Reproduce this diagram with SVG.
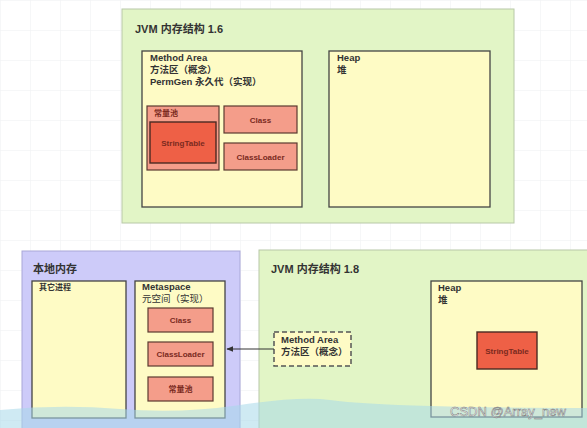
<svg xmlns="http://www.w3.org/2000/svg" width="587" height="428" viewBox="0 0 587 428">
<defs>
<pattern id="grid" width="30" height="30" patternUnits="userSpaceOnUse">
<path d="M30 0H0V30" fill="none" stroke="#eef0f2" stroke-width="1"/>
</pattern>
<marker id="arr" viewBox="0 0 10 10" refX="9" refY="5" markerWidth="7" markerHeight="7" orient="auto">
<path d="M0 1L10 5L0 9z" fill="#333"/>
</marker>
<style>
text{font-family:"Liberation Sans","Noto Sans CJK SC",sans-serif;font-weight:bold;fill:#333}
.t{font-size:11px}
.h{font-size:9.5px}
.s{font-size:8px;fill:#7a2a1e}
.green{fill:#e2f5c6;stroke:#b8c8a8;stroke-width:1}
.yel{fill:#fefbc5;stroke:#444;stroke-width:1.3}
.sal{fill:#f49d8a;stroke:#5a3a30;stroke-width:1.2}
.red{fill:#ee6046;stroke:#4a2a22;stroke-width:1.4}
.pur{fill:#cdcbf9;stroke:#a9a8d8;stroke-width:1}
</style>
</defs>
<rect width="587" height="428" fill="#fff"/>
<rect width="587" height="428" fill="url(#grid)"/>

<g id="jvm16">
<rect class="green" x="122" y="9" width="392" height="214"/>
<text class="t" x="135" y="33">JVM 内存结构 1.6</text>
</g>
<g id="methodArea16">
<rect class="yel" x="142" y="51" width="160" height="156"/>
<text class="h" x="150" y="61">Method Area</text>
<text class="h" x="150" y="73">方法区（概念）</text>
<text class="h" x="150" y="85">PermGen 永久代（实现）</text>
</g>
<g id="heap16">
<rect class="yel" x="329" y="51" width="161" height="156"/>
<text class="h" x="337" y="61">Heap</text>
<text class="h" x="337" y="73">堆</text>
</g>
<g id="constPool16">
<rect class="sal" x="147" y="106" width="72" height="64"/>
<text class="s" x="154" y="116">常量池</text>
</g>
<g id="stringTable16">
<rect class="red" x="150" y="122" width="66" height="41"/>
<text class="s" x="183" y="145.5" text-anchor="middle">StringTable</text>
</g>
<g id="class16">
<rect class="sal" x="224" y="106" width="73" height="27"/>
<text class="s" x="260.5" y="122.5" text-anchor="middle">Class</text>
</g>
<g id="classLoader16">
<rect class="sal" x="224" y="143" width="73" height="27"/>
<text class="s" x="260.5" y="159.5" text-anchor="middle">ClassLoader</text>
</g>

<g id="nativeMem">
<rect class="pur" x="22" y="251" width="218" height="190"/>
<text class="t" x="33" y="273">本地内存</text>
</g>
<g id="otherProc">
<rect class="yel" x="32" y="281" width="94" height="137"/>
<text class="s" x="39" y="290" style="fill:#333">其它进程</text>
</g>
<g id="metaspace">
<rect class="yel" x="135" y="281" width="90" height="137"/>
<text class="h" x="142" y="290">Metaspace</text>
<text class="h" x="142" y="302" style="font-weight:normal">元空间（实现）</text>
</g>
<g id="class18">
<rect class="sal" x="148" y="308" width="65" height="24"/>
<text class="s" x="180.5" y="323" text-anchor="middle">Class</text>
</g>
<g id="classLoader18">
<rect class="sal" x="148" y="342" width="65" height="24"/>
<text class="s" x="180.5" y="357" text-anchor="middle">ClassLoader</text>
</g>
<g id="constPool18">
<rect class="sal" x="148" y="377" width="65" height="24"/>
<text class="s" x="180.5" y="392" text-anchor="middle">常量池</text>
</g>

<g id="jvm18">
<rect class="green" x="259" y="250" width="340" height="190"/>
<text class="t" x="271" y="273">JVM 内存结构 1.8</text>
</g>
<g id="heap18">
<rect class="yel" x="431" y="281" width="151" height="136"/>
<text class="h" x="438" y="291">Heap</text>
<text class="h" x="438" y="303">堆</text>
</g>
<g id="stringTable18">
<rect class="red" x="477" y="332" width="60" height="37"/>
<text class="s" x="507" y="353.5" text-anchor="middle">StringTable</text>
</g>
<g id="methodArea18">
<rect x="274" y="332" width="77" height="34" fill="#fefbc5" stroke="#555" stroke-width="1.5" stroke-dasharray="5,3"/>
<text class="h" x="281" y="343">Method Area</text>
<text class="h" x="281" y="355">方法区（概念）</text>
</g>

<g id="connectors">
<line x1="274" y1="349" x2="227" y2="349" stroke="#333" stroke-width="1" marker-end="url(#arr)"/>
</g>

<path d="M0 410 Q60 404 120 409 T240 405 T330 400 T430 406 T587 408 V428 H0Z" fill="#a8d8ea" opacity="0.55"/>
<text x="450" y="416" style="font-family:'Liberation Sans',sans-serif;font-weight:normal;font-size:13px;fill:#fff;stroke:#777;stroke-width:0.5">CSDN @Array_new</text>
</svg>
